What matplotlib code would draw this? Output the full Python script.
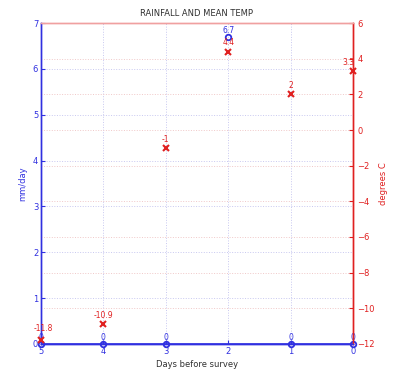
import matplotlib
matplotlib.use('Agg')
import matplotlib.pyplot as plt

# Rainfall and mean temperature for the days before the survey
days = [5, 4, 3, 2, 1, 0]
rainfall = [0, 0, 0, 6.7, 0, 0]
mean_temp = [-11.8, -10.9, -1, 4.4, 2, 3.3]
rain_labels = ['0', '0', '0', '6.7', '0', '0']
temp_labels = ['-11.8', '-10.9', '-1', '4.4', '2', '3.3']

BLUE = '#3030e0'
RED = '#e02020'

plt.rcParams['font.family'] = 'DejaVu Sans'

fig = plt.figure(figsize=(3.94, 3.73), dpi=100)
ax1 = fig.add_axes([0.104, 0.078, 0.792, 0.86])
ax2 = ax1.twinx()

# Rainfall on the left axis
ax1.plot(days, rainfall, linestyle='none', marker='o', markersize=4,
         markerfacecolor='none', markeredgecolor=BLUE, markeredgewidth=1.3,
         clip_on=False, zorder=3)
for d, r, lab in zip(days, rainfall, rain_labels):
    ax1.annotate(lab, (d, r), xytext=(0, 1.5), textcoords='offset points',
                 color=BLUE, fontsize=5.5, ha='center', va='bottom')
ax1.set_xlim(5, 0)
ax1.set_ylim(0, 7)
ax1.set_xticks(range(6))
ax1.set_yticks(range(8))
ax1.tick_params(axis='both', colors=BLUE, labelsize=6, length=3, direction='in', pad=2)
ax1.set_ylabel('mm/day', color=BLUE, fontsize=6, labelpad=4)
ax1.set_xlabel('Days before survey', color='#303030', fontsize=6, labelpad=3)
ax1.grid(True, color='#c8c8f0', linestyle=':', linewidth=0.7)
ax1.axhline(0, color=BLUE, linewidth=1.2, zorder=1)

# Mean temperature on the right axis
ax2.plot(days, mean_temp, linestyle='none', marker='x', markersize=5,
         color=RED, markeredgewidth=1.5, clip_on=False, zorder=3)
for d, t, lab in zip(days, mean_temp, temp_labels):
    dx = -3 if d == 0 else (2 if d == 5 else 0)
    dy = 5 if d == 5 else 3
    ax2.annotate(lab, (d, t), xytext=(dx, dy), textcoords='offset points',
                 color=RED, fontsize=5.5, ha='center', va='bottom')
ax2.set_ylim(-12, 6)
ax2.set_yticks(range(-12, 7, 2))
ax2.tick_params(axis='y', colors=RED, labelsize=6, length=3, direction='in', pad=3)
ax2.set_ylabel('degrees C', color=RED, fontsize=6, labelpad=3)
ax2.grid(True, axis='y', color='#f0c8c8', linestyle=':', linewidth=0.7)

for ax in (ax1, ax2):
    ax.spines['left'].set_color(BLUE)
    ax.spines['bottom'].set_color(BLUE)
    ax.spines['top'].set_color('#f0a0a0')
    ax.spines['right'].set_color(RED)
    for s in ax.spines.values():
        s.set_linewidth(1.0)

ax1.set_title('RAINFALL AND MEAN TEMP', fontsize=6, color='#303030', pad=5)

fig.savefig('out.png', dpi=100)
